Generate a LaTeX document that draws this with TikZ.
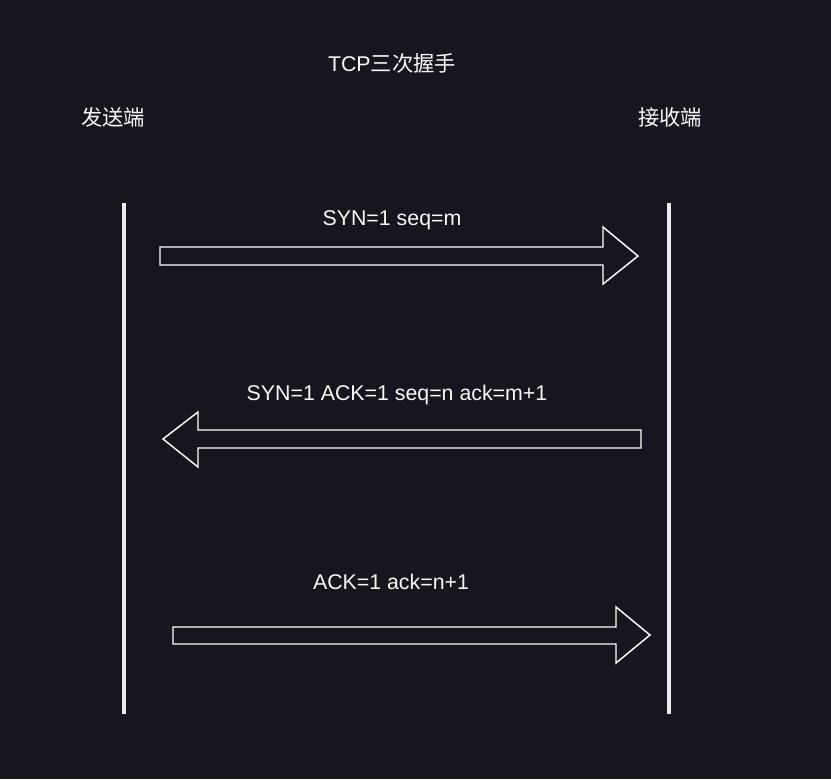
\documentclass[tikz,border=0pt]{standalone}
\usepackage{fontspec}
\setmainfont{Liberation Sans}
\newfontfamily\cjk{Noto Sans CJK SC}
\definecolor{bgc}{RGB}{24,21,30}
\definecolor{linec}{RGB}{236,236,236}
\definecolor{txtc}{RGB}{248,248,248}
\tikzset{
  lbl/.style={text=txtc, inner sep=0pt, font=\fontsize{16}{19}\selectfont},
  life/.style={draw=linec, line width=3.3pt},
  blockarrow/.style={draw=white, line width=1.1pt, line join=miter}
}
\begin{document}
\begin{tikzpicture}[x=0.75pt,y=-0.75pt]
\fill[bgc] (0,0) rectangle (831,779);
\useasboundingbox (0,0) rectangle (831,779);
% titles
\node[lbl] (title) at (392,63) {TCP{\cjk 三次握手}};
\node[lbl] (snd) at (113,117) {\cjk 发送端};
\node[lbl] (rcv) at (670,117) {\cjk 接收端};
% lifelines
\coordinate (sndtop) at (124,203);
\coordinate (sndbot) at (124,714);
\coordinate (rcvtop) at (669,203);
\coordinate (rcvbot) at (669,714);
\draw[life] (sndtop) -- (sndbot);
\draw[life] (rcvtop) -- (rcvbot);
% arrow 1
\node[lbl] (l1) at (392,220) {SYN=1 seq=m};
\draw[blockarrow] (160,247) -- (603,247) -- (603,227) -- (638,256) -- (603,284) -- (603,265) -- (160,265) -- cycle;
% arrow 2
\node[lbl] (l2) at (397,395) {SYN=1 ACK=1 seq=n ack=m+1};
\draw[blockarrow] (641,430) -- (198,430) -- (198,412) -- (163,439) -- (198,467) -- (198,448) -- (641,448) -- cycle;
% arrow 3
\node[lbl] (l3) at (391,582) {ACK=1 ack=n+1};
\draw[blockarrow] (173,627) -- (616,627) -- (616,607) -- (650,635) -- (616,663) -- (616,644) -- (173,644) -- cycle;
\end{tikzpicture}
\end{document}
